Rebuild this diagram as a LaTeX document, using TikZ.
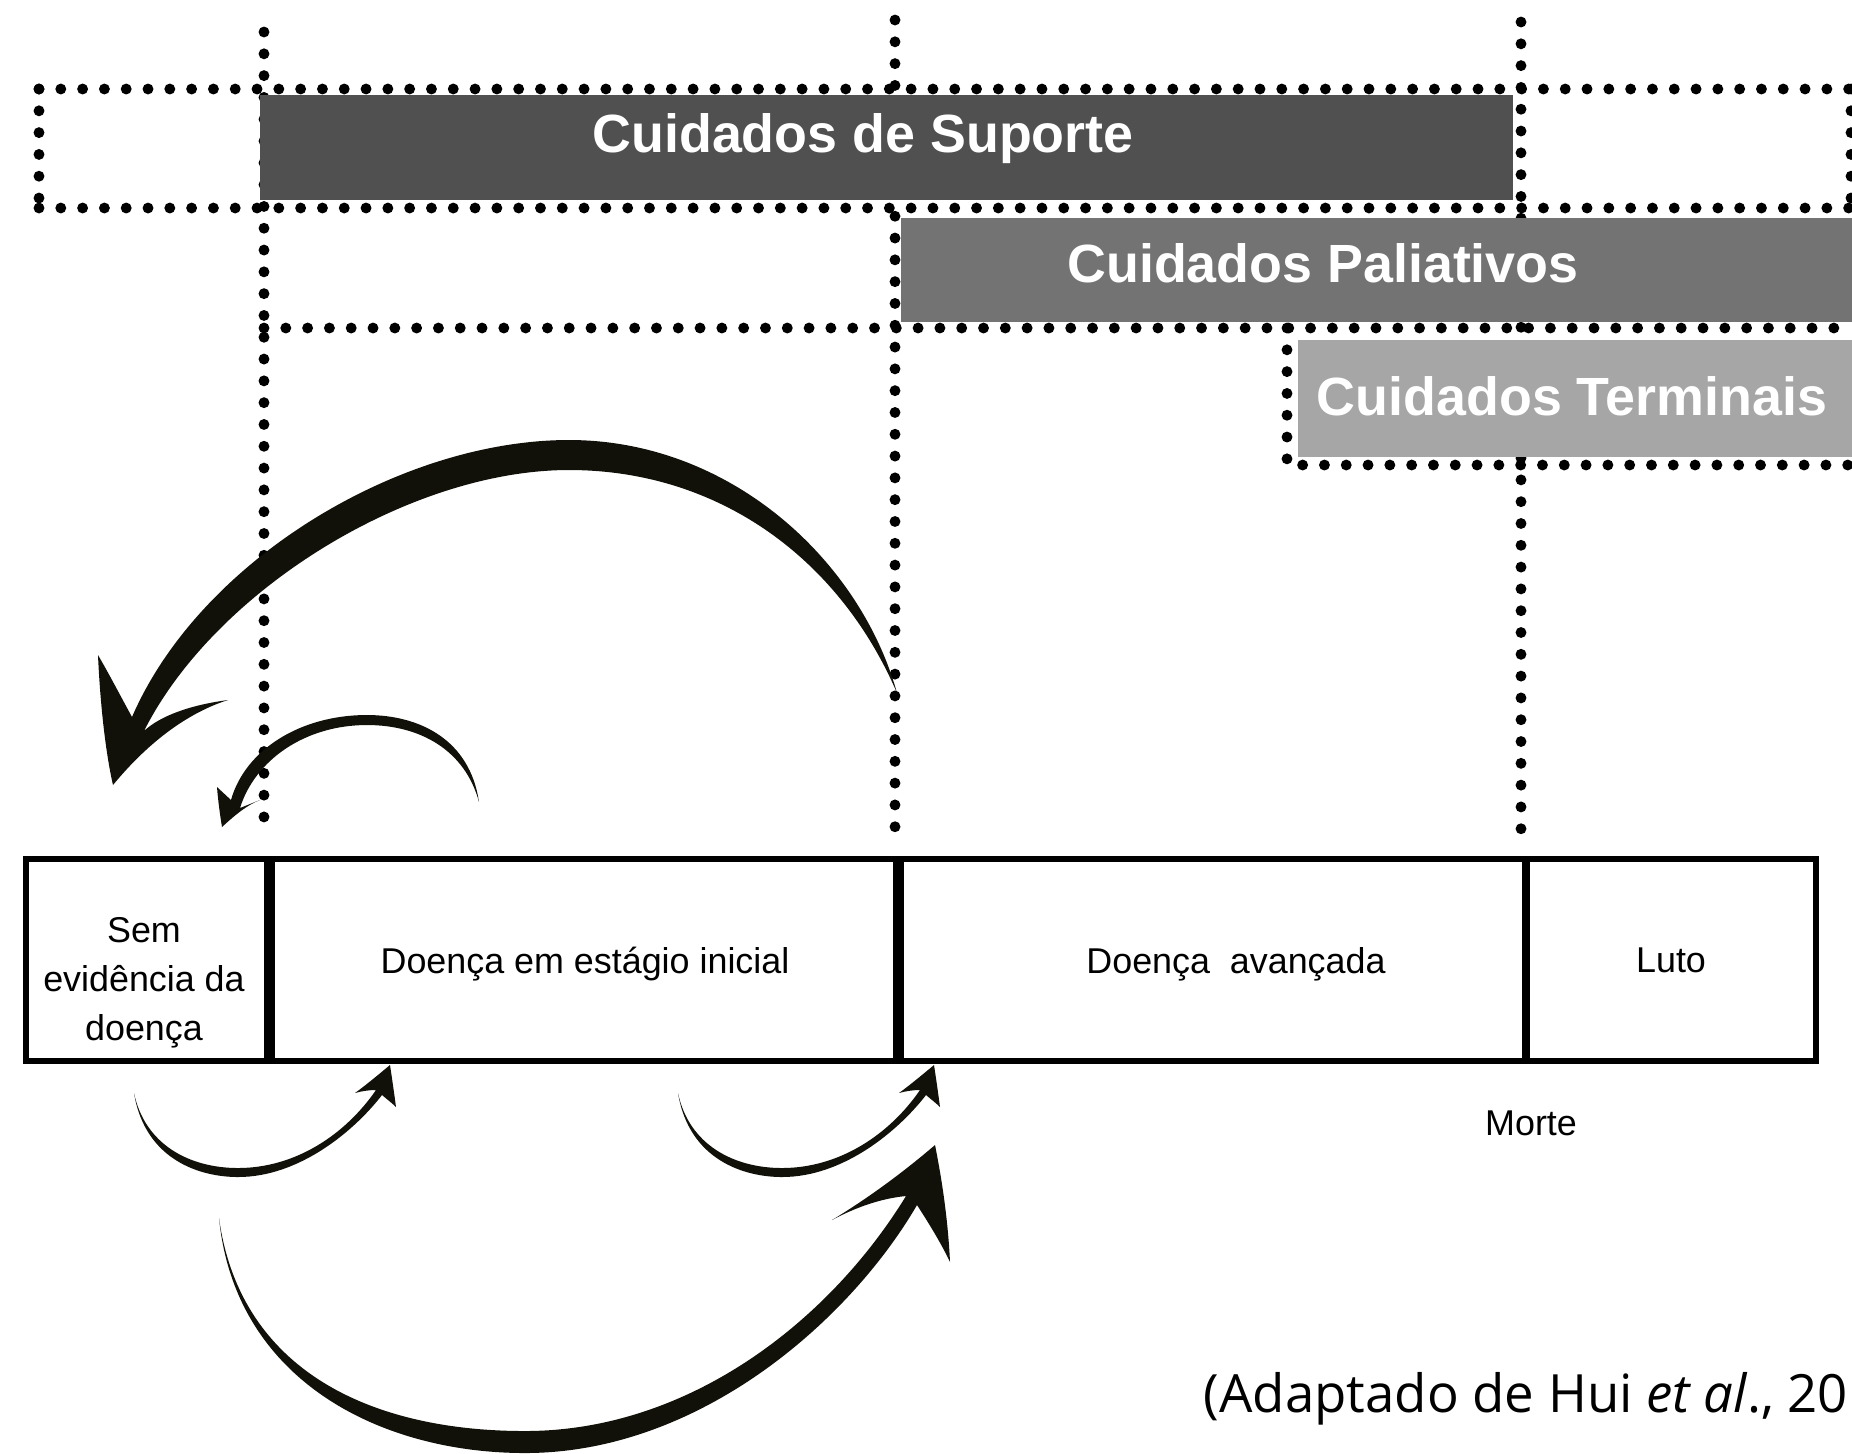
\documentclass[tikz,border=0pt]{standalone}
\usepackage{fontspec}
\setmainfont{Liberation Sans}
\newfontfamily\citefont{Open Sans}
\usepackage{tikz}
\definecolor{suporteGray}{HTML}{505050}
\definecolor{paliativoGray}{HTML}{737373}
\definecolor{terminalGray}{HTML}{A6A6A6}
\definecolor{inkBlack}{HTML}{111109}

\begin{document}
\begin{tikzpicture}
[x=0.01cm,y=-0.01cm,
 dots/.style = {line width=3.1pt, line cap=round, dash pattern=on 0pt off 6.2pt},
 barlabel/.style = {anchor=base, inner sep=0pt, text=white, font=\fontsize{15.3}{18}\selectfont\bfseries},
 stage/.style = {draw, line width=1.6pt, minimum height=2.02cm, inner sep=0pt},
 stagetext/.style = {inner sep=0pt, align=center, font=\fontsize{10.2}{13.9}\selectfont},
 swoosh/.style = {fill=inkBlack},]
\clip (0,0) rectangle (1852,1453);
\fill[white] (0,0) rectangle (1852,1453);

\draw[dots] (39,89) -- (1851,89);
\draw[dots] (39,208) -- (1851,208);
\draw[dots] (39,89) -- (39,208);
\draw[dots] (1851,89) -- (1851,208);
\draw[dots] (264,328) -- (1851,328);
\draw[dots] (1287,328) -- (1287,465) -- (1851,465);
\draw[dots] (264,32) -- (264,835);
\draw[dots] (895,20) -- (895,833);
\draw[dots] (1521,22) -- (1521,843);

\fill[suporteGray] (260,95) rectangle (1513,200);
\fill[paliativoGray] (901,218) rectangle (1852,322);
\fill[terminalGray] (1298,340) rectangle (1852,457);
\node[barlabel] (suporte) at (863,152) {Cuidados de Suporte};
\node[barlabel] (paliativos) at (1323,282) {Cuidados Paliativos};
\node[barlabel] (terminais) at (1572,415) {Cuidados Terminais};

\node[stage, minimum width=2.41cm] (sem) at (146.5,960) {};
\node[stage, minimum width=6.24cm] (inicial) at (584,960) {};
\node[stage, minimum width=6.24cm] (avancada) at (1213,960) {};
\node[stage, minimum width=2.89cm] (luto) at (1671.5,960) {};
\node[stagetext] (semTxt) at (144,983) {Sem\\evidência da\\doença};
\node[stagetext, anchor=base] (inicialTxt) at (585,973) {Doença em estágio inicial};
\node[stagetext, anchor=base] (avancadaTxt) at (1236,973) {Doença\ \ avançada};
\node[stagetext, anchor=base] (lutoTxt) at (1671,972) {Luto};
\node[stagetext, anchor=base] (morte) at (1531,1135) {Morte};
\node[anchor=base west, inner sep=0pt, font=\citefont\fontsize{15}{18}\selectfont] (fonte) at (1203,1412) {(Adaptado de Hui \textit{et al}., 20};

\coordinate (bigTopTail) at (897,693);
\coordinate (bigTopTip) at (113,785);
\fill[swoosh] (bigTopTail) .. controls (860,560) and (730,440) .. (569,440)
  .. controls (400,440) and (200,560) .. (132,717)
  .. controls (120,695) and (108,672) .. (98,655)
  .. controls (100,700) and (105,750) .. (bigTopTip)
  .. controls (150,740) and (190,712) .. (228,700)
  .. controls (190,705) and (160,716) .. (144,731)
  .. controls (215,590) and (410,470) .. (569,470)
  .. controls (720,470) and (840,560) .. (bigTopTail) -- cycle;

\coordinate (smallTopTail) at (479,802);
\coordinate (smallTopTip) at (222,827);
\fill[swoosh] (smallTopTail) .. controls (470,740) and (420,715) .. (367,715)
  .. controls (300,715) and (245,750) .. (231,800)
  -- (217,787) .. controls (218,800) and (220,815) .. (smallTopTip)
  .. controls (235,815) and (247,805) .. (260,800) -- (240,808)
  .. controls (255,760) and (305,725) .. (367,725)
  .. controls (420,725) and (465,750) .. (smallTopTail) -- cycle;

\foreach \dx in {0,544}
  \fill[swoosh, shift={(\dx,0)}] (134,1093) .. controls (145,1160) and (200,1177) .. (238,1177)
  .. controls (300,1177) and (355,1130) .. (382,1095)
  .. controls (388,1100) and (393,1104) .. (396,1107)
  .. controls (394,1092) and (392,1078) .. (390,1065)
  .. controls (378,1075) and (366,1085) .. (355,1093)
  .. controls (362,1091) and (369,1090) .. (376,1090)
  .. controls (345,1135) and (295,1168) .. (238,1168)
  .. controls (190,1168) and (145,1145) .. (134,1093) -- cycle;

\coordinate (bigLowTail) at (219,1218);
\coordinate (bigLowTip) at (935,1145);
\fill[swoosh] (bigLowTail) .. controls (235,1380) and (380,1453) .. (525,1453)
  .. controls (700,1453) and (850,1320) .. (917,1205)
  .. controls (930,1225) and (942,1245) .. (950,1262)
  .. controls (948,1220) and (942,1180) .. (bigLowTip)
  .. controls (900,1175) and (865,1200) .. (832,1220)
  .. controls (860,1205) and (885,1198) .. (906,1196)
  .. controls (830,1320) and (690,1431) .. (525,1431)
  .. controls (370,1431) and (240,1370) .. (bigLowTail) -- cycle;
\end{tikzpicture}
\end{document}
